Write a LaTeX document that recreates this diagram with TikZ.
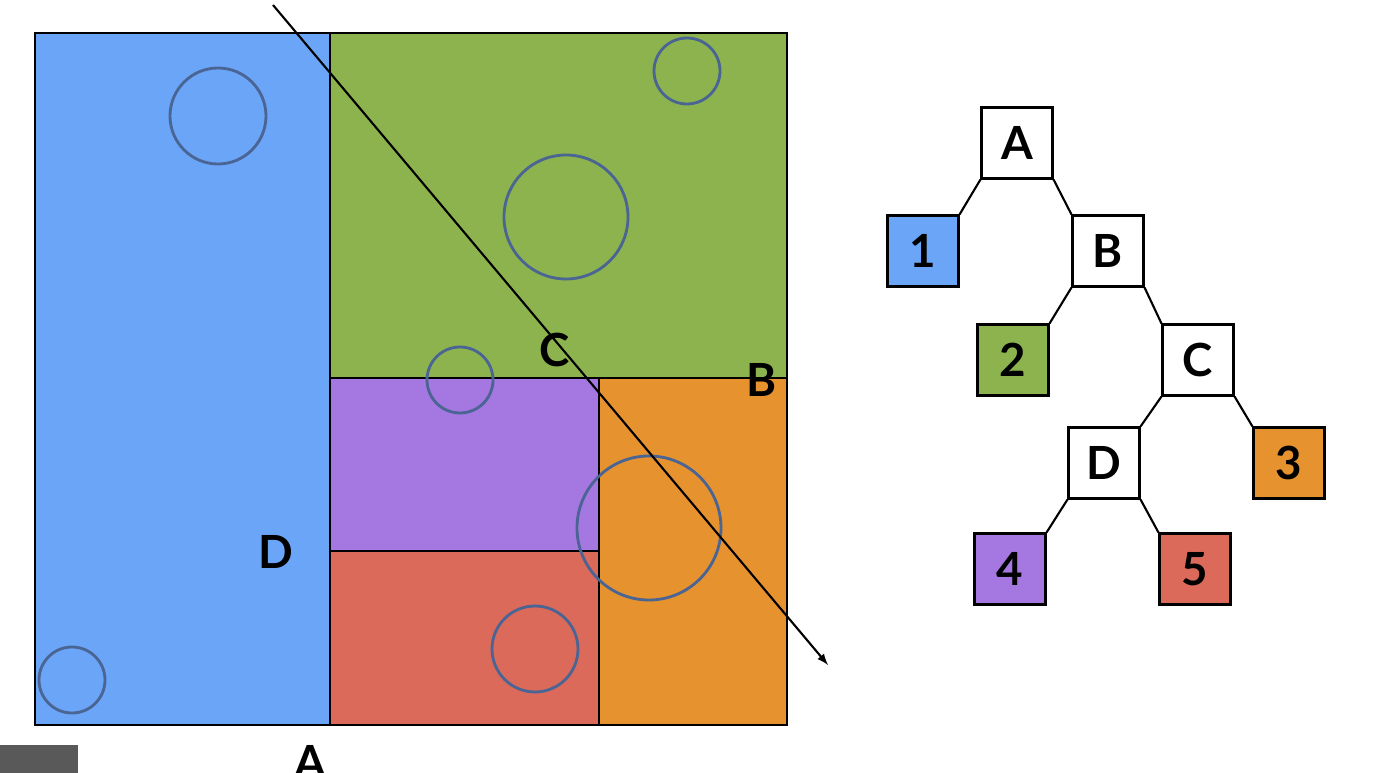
\documentclass[tikz,border=0pt]{standalone}
\usepackage{fontspec}
\setmainfont{Lato}
\begin{document}
\begin{tikzpicture}[x=0.02cm,y=-0.02cm,
  reg/.style={draw=black,line width=1pt},
  circ/.style={draw=circc,line width=1.6pt},
  lab/.style={font=\fontsize{26}{28}\selectfont\bfseries},
  tbox/.style={draw=black,line width=1.2pt,minimum size=1.42cm,inner sep=0pt,font=\fontsize{26}{28}\selectfont\bfseries},
  edge/.style={line width=1.2pt}]
\definecolor{cb}{HTML}{6AA5F7}\definecolor{cg}{HTML}{8DB34E}
\definecolor{cp}{HTML}{A577E0}\definecolor{cr}{HTML}{DC6A5A}
\definecolor{co}{HTML}{E5922F}\definecolor{circc}{HTML}{4A6494}
\useasboundingbox (0,0) rectangle (1395,773);
\fill[white] (0,0) rectangle (1395,773);
\filldraw[reg,fill=cb] (35,33) rectangle (330,725);
\filldraw[reg,fill=cg] (330,33) rectangle (787,378);
\filldraw[reg,fill=cp] (330,378) rectangle (599,551);
\filldraw[reg,fill=cr] (330,551) rectangle (599,725);
\filldraw[reg,fill=co] (599,378) rectangle (787,725);
\draw[circ] (218,116) circle (48);
\draw[circ] (687,71) circle (33);
\draw[circ] (566,217) circle (62);
\draw[circ] (460,380) circle (33);
\draw[circ] (649,528) circle (72);
\draw[circ] (535,649) circle (43);
\draw[circ] (72,680) circle (33);
\coordinate (ls) at (273,5); \coordinate (le) at (828,665);
\draw[line width=1.2pt,-latex] (ls) -- (le);
\node[lab] (lc) at (555,350) {C};
\node[lab] (lb) at (762,380) {B};
\node[lab] (ld) at (276,552) {D};
\node[lab] (la) at (310,762) {A};
\fill[gray!70!black] (0,745) rectangle (78,773);
\node[tbox,fill=white] (tA) at (1017,143) {A};
\node[tbox,fill=cb] (t1) at (923,251) {1};
\node[tbox,fill=white] (tB) at (1108,251) {B};
\node[tbox,fill=cg] (t2) at (1013,360) {2};
\node[tbox,fill=white] (tC) at (1198,360) {C};
\node[tbox,fill=white] (tD) at (1104,463) {D};
\node[tbox,fill=co] (t3) at (1289,463) {3};
\node[tbox,fill=cp] (t4) at (1010,569) {4};
\node[tbox,fill=cr] (t5) at (1195,569) {5};
\draw[edge] (tA.south west) -- (t1.north east);
\draw[edge] (tA.south east) -- (tB.north west);
\draw[edge] (tB.south west) -- (t2.north east);
\draw[edge] (tB.south east) -- (tC.north west);
\draw[edge] (tC.south west) -- (tD.north east);
\draw[edge] (tC.south east) -- (t3.north west);
\draw[edge] (tD.south west) -- (t4.north east);
\draw[edge] (tD.south east) -- (t5.north west);
\end{tikzpicture}
\end{document}
